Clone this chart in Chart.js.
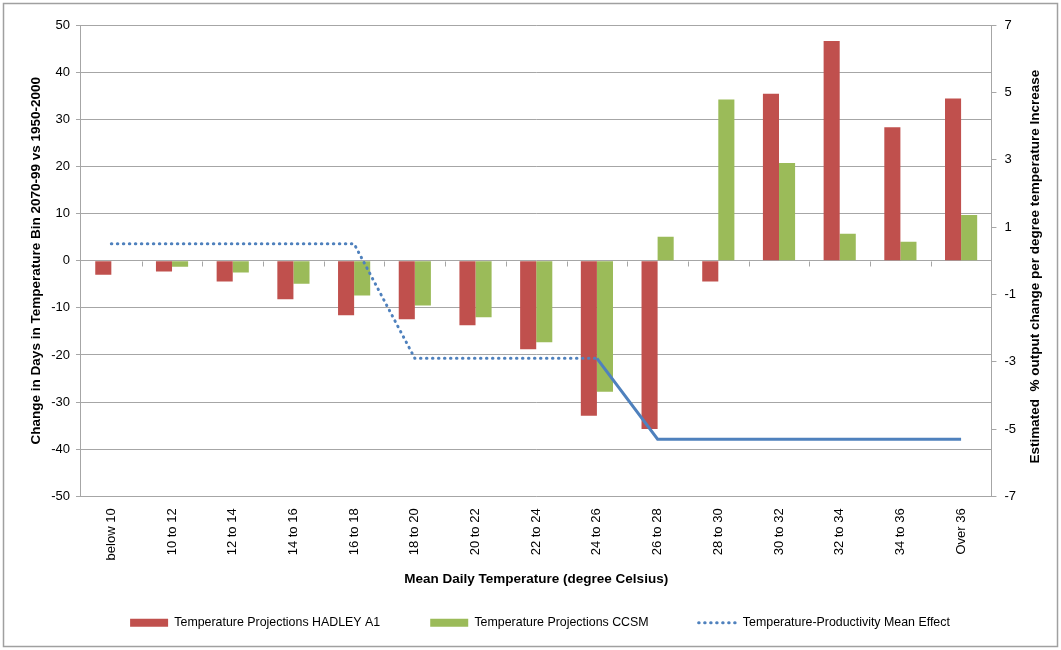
<!DOCTYPE html>
<html><head><meta charset="utf-8">
<script src="https://cdn.jsdelivr.net/npm/chart.js@4/dist/chart.umd.min.js"></script>
<style>
html,body{margin:0;padding:0;background:#fff;}
#wrap{width:1061px;height:650px;position:relative;}
</style></head>
<body><div id="wrap"><canvas id="c" width="1061" height="650"></canvas></div>
<script>
const categories = ["below 10","10 to 12","12 to 14","14 to 16","16 to 18","18 to 20","20 to 22","22 to 24","24 to 26","26 to 28","28 to 30","30 to 32","32 to 34","34 to 36","Over 36"];
const hadley = [-3.0,-2.3,-4.4,-8.2,-11.6,-12.4,-13.7,-18.8,-32.9,-35.7,-4.4,35.4,46.6,28.3,34.4];
const ccsm = [0,-1.3,-2.5,-4.9,-7.4,-9.5,-12.0,-17.3,-27.8,5.1,34.2,20.7,5.7,4.0,9.7];
const meanEffect = [0.5,0.5,0.5,0.5,0.5,-2.9,-2.9,-2.9,-2.9,-5.3,-5.3,-5.3,-5.3,-5.3,-5.3];
const rightTicks = [-7,-5,-3,-1,1,3,5,7];
const seriesNames = ["Temperature Projections HADLEY A1","Temperature Projections CCSM","Temperature-Productivity Mean Effect"];
const rightTitle = "Estimated  % output change per degree temperature Increase";
</script>
<script>
const FONT = "'Liberation Sans', Arial, sans-serif";
const GRID = '#a6a6a6';
Chart.defaults.font.family = FONT;
Chart.defaults.color = '#000';

const frame = {
  id:'frame',
  beforeDraw(chart){
    const c = chart.ctx;
    c.save(); c.fillStyle='#fff'; c.fillRect(0,0,chart.width,chart.height);
    c.strokeStyle='#a0a0a0'; c.lineWidth=1.5;
    c.strokeRect(3.5,3.5,chart.width-7,chart.height-7);
    c.restore();
  },
  beforeDatasetsDraw(chart){
    const c = chart.ctx, x = chart.scales.x, y = chart.scales.y;
    const y0 = Math.round(y.getPixelForValue(0))+0.5;
    c.save(); c.strokeStyle=GRID; c.lineWidth=1;
    c.beginPath();
    for(let i=1;i<categories.length;i++){
      const px = Math.round((x.getPixelForValue(i-1)+x.getPixelForValue(i))/2)+0.5;
      c.moveTo(px,y0); c.lineTo(px,y0+5);
    }
    c.stroke(); c.restore();
  },
  afterDraw(chart){
    const c = chart.ctx, s = chart.scales.y1, a = chart.chartArea;
    c.save();
    c.font = "bold 13.5px " + FONT; c.fillStyle='#000';
    c.textAlign='center'; c.textBaseline='middle';
    c.translate(s.right - 17, (a.top+a.bottom)/2 + 6);
    c.rotate(-Math.PI/2);
    c.fillText(rightTitle, 0, 0);
    c.restore();
  }
};

new Chart(document.getElementById('c'), {
  data: {
    labels: categories,
    datasets: [
      {type:'line', label: seriesNames[2], data: meanEffect, yAxisID:'y1',
        borderColor:'#4F81BD', backgroundColor:'#4F81BD', borderWidth:3,
        borderDash:[0.5,5.5], borderCapStyle:'round', pointRadius:0, tension:0, order:0,
        segment:{ borderDash: ctx => ctx.p0DataIndex >= 8 ? [] : undefined,
                  borderCapStyle: ctx => ctx.p0DataIndex >= 8 ? 'butt' : undefined }},
      {type:'bar', label: seriesNames[0], data: hadley, yAxisID:'y', backgroundColor:'#C0504D',
        categoryPercentage:0.53, barPercentage:1.0, order:1},
      {type:'bar', label: seriesNames[1], data: ccsm, yAxisID:'y', backgroundColor:'#9BBB59',
        categoryPercentage:0.53, barPercentage:1.0, order:1}
    ]
  },
  options: {
    responsive:false, animation:false,
    layout:{padding:{left:28, right:9, top:25, bottom:11}},
    plugins:{
      tooltip:{enabled:false},
      legend:{
        position:'bottom',
        labels:{
          font:{size:12.4, family:FONT}, color:'#000',
          usePointStyle:true, pointStyleWidth:38, boxWidth:38, boxHeight:8, padding:50,
          sort:(a,b)=>seriesNames.indexOf(a.text)-seriesNames.indexOf(b.text),
          generateLabels(chart){
            const items = Chart.defaults.plugins.legend.labels.generateLabels(chart);
            items.forEach(it=>{
              if(it.text===seriesNames[2]){
                it.pointStyle='line'; it.lineWidth=3; it.lineDash=[0.5,5.5]; it.lineCap='round';
                it.strokeStyle='#4F81BD'; it.fillStyle='#4F81BD';
              } else {
                it.pointStyle='rect'; it.lineWidth=0;
              }
            });
            return items;
          }
        }
      }
    },
    scales:{
      x:{
        grid:{display:false}, border:{display:false},
        ticks:{minRotation:90, maxRotation:90, font:{size:13}, color:'#000', padding:4, autoSkip:false},
        title:{display:true, text:'Mean Daily Temperature (degree Celsius)', font:{size:13.5, weight:'bold'}, color:'#000', padding:{top:7,bottom:-21}}
      },
      y:{
        position:'left', min:-50, max:50,
        ticks:{stepSize:10, font:{size:13}, color:'#000', padding:6},
        grid:{color:GRID, lineWidth:1, tickLength:5, tickColor:GRID},
        border:{display:true, color:GRID, width:1},
        title:{display:true, text:'Change in Days in Temperature Bin 2070-99 vs 1950-2000', font:{size:13.5, weight:'bold'}, color:'#000', padding:{top:0,bottom:1}}
      },
      y1:{
        position:'right', min:-7, max:7,
        afterBuildTicks(axis){ axis.ticks = rightTicks.map(v=>({value:v})); },
        afterFit(axis){ axis.width += 28; },
        ticks:{font:{size:13}, color:'#000', padding:8},
        grid:{drawOnChartArea:false, tickLength:5, color:GRID},
        border:{display:true, color:GRID, width:1},
        title:{display:false}
      }
    }
  },
  plugins:[frame]
});
</script>
</body></html>
